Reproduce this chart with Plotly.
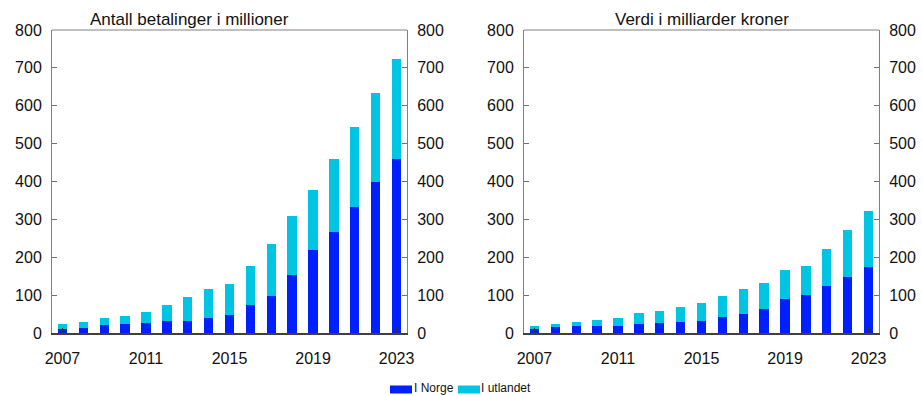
import plotly.graph_objects as go

W, H = 922, 396

years = list(range(2007, 2024))

# Antall betalinger i millioner
antall_norge = [10, 14, 20, 24, 26, 32, 33, 40, 48, 73, 98, 154, 218, 267, 333, 400, 459]
antall_utland = [13, 16, 19, 22, 29, 42, 61, 75, 81, 103, 136, 154, 159, 192, 212, 234, 264]

# Verdi i milliarder kroner
verdi_norge = [10, 15, 18.5, 19.5, 18.5, 24, 26.5, 29, 32, 43, 50, 63.5, 90, 100, 124, 148, 173]
verdi_utland = [8.5, 8, 11.5, 14, 20, 28, 32.5, 39, 48, 55.5, 67, 69.5, 75.5, 78, 97, 124, 148]

xticks = [2007, 2011, 2015, 2019, 2023]
yticks = list(range(0, 801, 100))

BLUE = "#0020ff"
CYAN = "#00c4e4"
FONT = "Liberation Sans, Arial, sans-serif"


def px_x(p):
    return p / W


def px_y(p):
    return (H - p) / H


fig = go.Figure()

panels = [
    ("x", "y", antall_norge, antall_utland),
    ("x2", "y2", verdi_norge, verdi_utland),
]
for xa, ya, norge, utland in panels:
    fig.add_trace(go.Bar(x=years, y=norge, name="I Norge", marker=dict(color=BLUE, line=dict(width=0)),
                         width=0.45, xaxis=xa, yaxis=ya, showlegend=False))
    fig.add_trace(go.Bar(x=years, y=utland, name="I utlandet", marker=dict(color=CYAN, line=dict(width=0)),
                         width=0.45, xaxis=xa, yaxis=ya, showlegend=False))

# invisible traces so the right-hand value axes are drawn
for xa, ya in [("x", "y3"), ("x2", "y4")]:
    fig.add_trace(go.Scatter(x=[2007], y=[0], xaxis=xa, yaxis=ya, mode="markers",
                             marker=dict(opacity=0), showlegend=False, hoverinfo="skip"))

dom_left = [px_x(52), px_x(407)]
dom_right = [px_x(524), px_x(879)]
dom_y = [px_y(333), px_y(30)]

xcommon = dict(range=[2006.5, 2023.5], tickvals=xticks, ticks="inside", ticklen=5, tickwidth=1,
               tickcolor="#303030", showline=True, linecolor="#404040", linewidth=1.5,
               showgrid=False, zeroline=False, tickfont=dict(size=16, color="#111"),
               ticklabelstandoff=10, automargin=False)
ycommon = dict(range=[0, 800], tickvals=yticks, ticks="inside", ticklen=5, tickwidth=1,
               tickcolor="#707070", showline=True, linecolor="#808080", linewidth=1,
               showgrid=False, zeroline=False, tickfont=dict(size=16, color="#111"),
               ticklabelstandoff=6, automargin=False)

fig.update_layout(
    width=W, height=H,
    margin=dict(l=0, r=0, t=0, b=0),
    paper_bgcolor="white", plot_bgcolor="white",
    barmode="stack", bargap=0,
    font=dict(family=FONT, color="#111"),
    xaxis=dict(domain=dom_left, anchor="y", **xcommon),
    xaxis2=dict(domain=dom_right, anchor="y2", **xcommon),
    yaxis=dict(domain=dom_y, anchor="x", side="left", **ycommon),
    yaxis2=dict(domain=dom_y, anchor="x2", side="left", **ycommon),
    yaxis3=dict(domain=dom_y, anchor="x", overlaying="y", side="right", **ycommon),
    yaxis4=dict(domain=dom_y, anchor="x2", overlaying="y2", side="right", **ycommon),
)

# top frame lines
for xr, yr in [("x domain", "y domain"), ("x2 domain", "y2 domain")]:
    fig.add_shape(type="line", xref=xr, yref=yr, x0=0, x1=1, y0=1, y1=1,
                  line=dict(color="#808080", width=1))

# panel titles
fig.add_annotation(text="Antall betalinger i millioner", xref="paper", yref="paper",
                   x=px_x(88), y=px_y(20), xanchor="left", yanchor="middle",
                   showarrow=False, font=dict(size=17, color="#111"))
fig.add_annotation(text="Verdi i milliarder kroner", xref="paper", yref="paper",
                   x=px_x(613), y=px_y(20), xanchor="left", yanchor="middle",
                   showarrow=False, font=dict(size=17, color="#111"))

# legend
legend_items = [("I Norge", BLUE, 390, 412), ("I utlandet", CYAN, 458, 480)]
for label, color, x0, x1 in legend_items:
    fig.add_shape(type="rect", xref="paper", yref="paper",
                  x0=px_x(x0), x1=px_x(x1), y0=px_y(393.5), y1=px_y(385.5),
                  fillcolor=color, line=dict(width=0))
    fig.add_annotation(text=label, xref="paper", yref="paper", x=px_x(x1 + 0.5), y=px_y(388),
                       xanchor="left", yanchor="middle", showarrow=False,
                       font=dict(size=12, color="#111"), borderpad=0)

fig.write_html("out.html")
